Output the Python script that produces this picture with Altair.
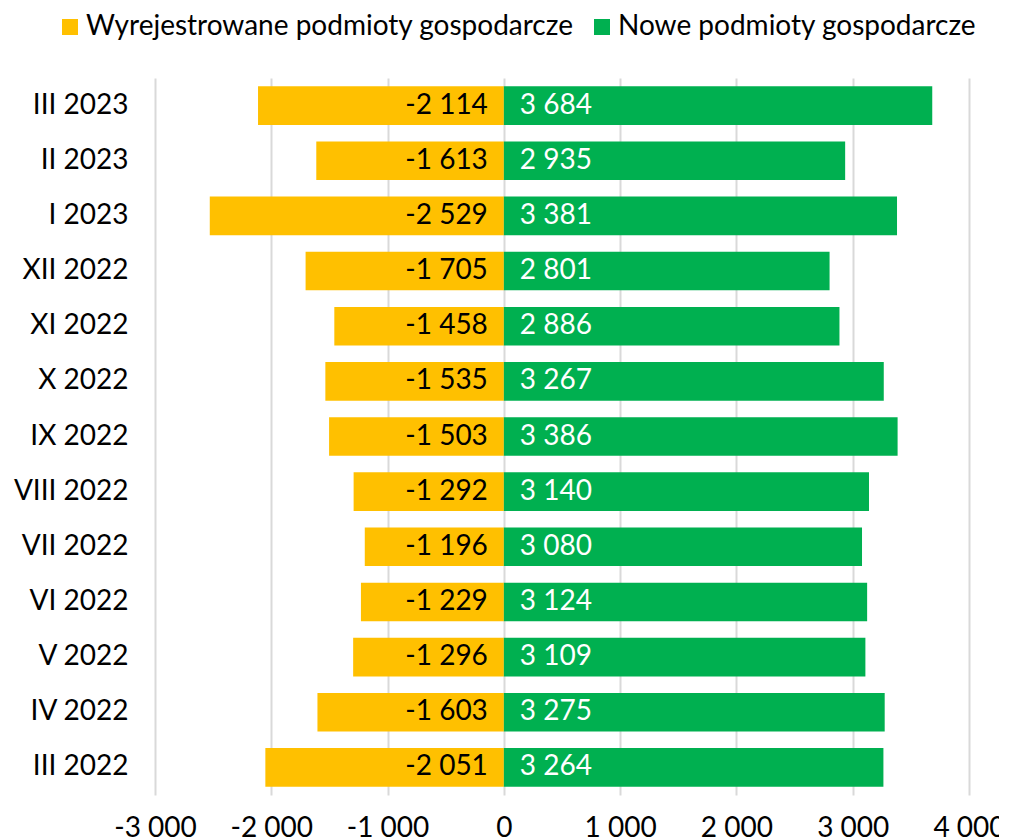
import altair as alt
import pandas as pd

months = ["III 2023", "II 2023", "I 2023", "XII 2022", "XI 2022", "X 2022", "IX 2022",
          "VIII 2022", "VII 2022", "VI 2022", "V 2022", "IV 2022", "III 2022"]
removed = [-2114, -1613, -2529, -1705, -1458, -1535, -1503, -1292, -1196, -1229, -1296, -1603, -2051]
new = [3684, 2935, 3381, 2801, 2886, 3267, 3386, 3140, 3080, 3124, 3109, 3275, 3264]
series = ["Wyrejestrowane podmioty gospodarcze", "Nowe podmioty gospodarcze"]
colors = ["#FFC000", "#00B050"]


def fmt(v):
    s = f"{abs(v):,}".replace(",", " ")
    return ("-" if v < 0 else "") + s


rows = []
for m, r, n in zip(months, removed, new):
    rows.append({"month": m, "series": series[0], "value": r, "label": fmt(r)})
    rows.append({"month": m, "series": series[1], "value": n, "label": fmt(n)})
df = pd.DataFrame(rows)

FONT = "Lato"
FS = 28

y_enc = alt.Y("month:N", sort=months, title=None,
              scale=alt.Scale(paddingInner=0.3, paddingOuter=0.15),
              axis=alt.Axis(labelFontSize=FS, labelColor="#000000", labelFont=FONT,
                            labelPadding=27, ticks=False, domain=False, grid=False))

x_enc = alt.X("value:Q", title=None,
              scale=alt.Scale(domain=[-3000, 4000], nice=False),
              axis=alt.Axis(values=[-3000, -2000, -1000, 0, 1000, 2000, 3000, 4000],
                            labelExpr="(datum.value < 0 ? '-' : '') + replace(format(abs(datum.value), ','), ',', ' ')",
                            labelFontSize=FS, labelColor="#000000", labelFont=FONT,
                            labelPadding=19, ticks=False, domain=False, labelOverlap=False,
                            labelFlush=False, labelBound=False,
                            grid=True, gridColor="#d9d9d9", gridWidth=2))

bars = alt.Chart(df).mark_bar().encode(
    x=x_enc,
    y=y_enc,
    color=alt.Color("series:N", sort=series,
                    scale=alt.Scale(domain=series, range=colors),
                    legend=alt.Legend(title=None, orient="none", direction="horizontal",
                                      legendX=-99, legendY=-65, padding=0,
                                      symbolType="square", symbolSize=256,
                                      symbolStrokeWidth=0, labelLimit=0,
                                      labelFontSize=FS, labelFont=FONT, labelColor="#000000",
                                      labelOffset=2, columnPadding=14)),
)

neg_text = alt.Chart(df).transform_filter("datum.value < 0").mark_text(
    align="right", baseline="middle", dx=-16, fontSize=FS, font=FONT, color="#000000"
).encode(x=alt.datum(0), y=alt.Y("month:N", sort=months), text="label:N")

pos_text = alt.Chart(df).transform_filter("datum.value > 0").mark_text(
    align="left", baseline="middle", dx=16, fontSize=FS, font=FONT, color="#ffffff"
).encode(x=alt.datum(0), y=alt.Y("month:N", sort=months), text="label:N")

chart = alt.layer(bars, neg_text, pos_text).properties(
    width=814, height=717,
    autosize=alt.AutoSizeParams(type="none"),
    padding={"left": 147, "top": 70, "right": 30, "bottom": 60},
).configure(font=FONT, view=alt.ViewConfig(stroke=None))

chart.save("out.html", embed_options={"renderer": "svg", "actions": False})
